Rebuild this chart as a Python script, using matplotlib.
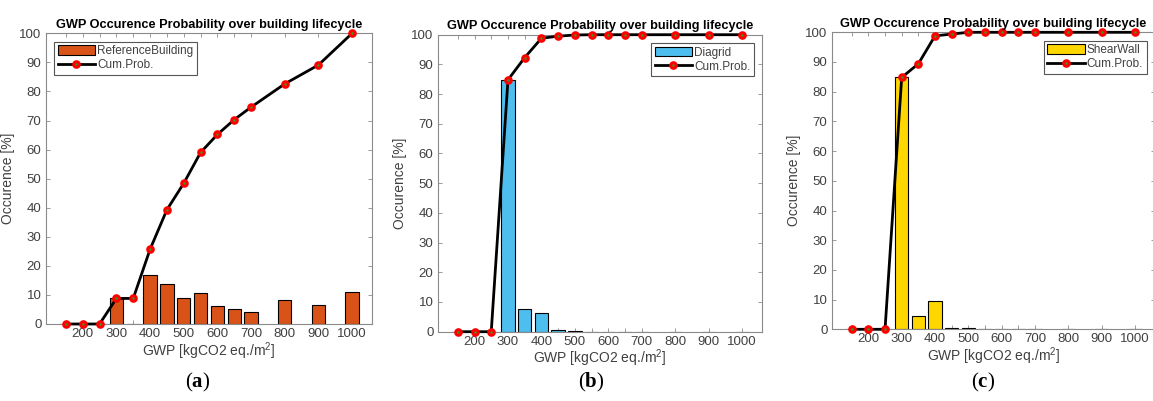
import matplotlib
matplotlib.use('Agg')
import matplotlib.pyplot as plt

# GWP bins [kgCO2 eq./m2]
gwp = [150, 200, 250, 300, 350, 400, 450, 500, 550, 600, 650, 700, 800, 900, 1000]

# occurence per bin [%]
ref_occ = [0, 0, 0, 8.8, 0, 16.9, 13.7, 9.1, 10.6, 6.2, 5.0, 4.0, 8.1, 6.5, 10.9]
diag_occ = [0, 0, 0, 84.8, 7.5, 6.3, 0.6, 0.3, 0, 0, 0, 0, 0, 0, 0]
shear_occ = [0, 0, 0, 84.8, 4.6, 9.4, 0.6, 0.6, 0, 0, 0, 0, 0, 0, 0]

# cumulative probability [%]
ref_cum = [0, 0, 0, 8.8, 8.8, 25.7, 39.3, 48.4, 59.0, 65.2, 70.3, 74.6, 82.6, 89.1, 100]
diag_cum = [0, 0, 0, 84.8, 92.3, 98.8, 99.5, 99.9, 100, 100, 100, 100, 100, 100, 100]
shear_cum = [0, 0, 0, 84.8, 89.4, 98.8, 99.4, 100, 100, 100, 100, 100, 100, 100, 100]

names = ['ReferenceBuilding', 'Diagrid', 'ShearWall']
colors = ['#D95319', '#4DBEEE', '#FFD700']
panel_tags = ['a', 'b', 'c']
xtick_labels = [str(v) if v % 100 == 0 else '' for v in gwp]

plt.rcParams['font.family'] = ['Liberation Sans Narrow', 'Liberation Sans', 'DejaVu Sans']
plt.rcParams['mathtext.fontset'] = 'custom'
plt.rcParams['mathtext.rm'] = 'Liberation Sans'
plt.rcParams['mathtext.bf'] = 'Liberation Serif:bold'

W, H = 1153, 401
fig = plt.figure(figsize=(W / 100, H / 100), dpi=100)

# axes boxes in pixels: left, top, right, bottom
boxes = [(45.7, 33.3, 372.3, 324.0),
         (437.7, 34.7, 762.3, 331.7),
         (831.7, 32.3, 1155.0, 329.3)]
legend_loc = ['upper left', 'upper right', 'upper right']
tag_x = [198, 591, 983]

tick_col = '#404040'
spine_col = '#8a8a8a'

for i in range(3):
    l, t, r, b = boxes[i]
    ax = fig.add_axes([l / W, 1 - b / H, (r - l) / W, (b - t) / H])
    occ = [ref_occ, diag_occ, shear_occ][i]
    cum = [ref_cum, diag_cum, shear_cum][i]

    ax.bar(gwp, occ, width=40, color=colors[i], edgecolor='black',
           linewidth=0.8, label=names[i], zorder=2)
    ax.plot(gwp, cum, '-o', color='black', linewidth=2, markersize=4,
            markerfacecolor='#3a9a20', markeredgecolor='red',
            markeredgewidth=2.2, label='Cum.Prob.', zorder=3, clip_on=False)

    ax.set_xlim(90, 1060)
    ax.set_ylim(0, 100)
    ax.set_xticks(gwp)
    ax.set_xticklabels(xtick_labels)
    ax.set_yticks(range(0, 101, 10))
    ax.tick_params(direction='in', top=True, right=True, length=3,
                   width=0.6, color=spine_col, labelcolor=tick_col,
                   labelsize=9.5, pad=3)
    for s in ax.spines.values():
        s.set_color(spine_col)
        s.set_linewidth(0.8)

    ax.set_title('GWP Occurence Probability over building lifecycle',
                 fontsize=9.2, fontweight='bold', family='Liberation Sans',
                 pad=4)
    ax.set_xlabel('GWP [kgCO2 eq./m$^{\\mathrm{2}}$]', fontsize=10,
                  color=tick_col, labelpad=0)
    ax.set_ylabel('Occurence [%]', fontsize=10, color=tick_col, labelpad=3)

    handles, labels = ax.get_legend_handles_labels()
    leg = ax.legend(handles[::-1], labels[::-1], loc=legend_loc[i], fontsize=8.5,
                    frameon=True, fancybox=False, edgecolor='#555555',
                    framealpha=1, handlelength=3.2, handleheight=0.9,
                    handletextpad=0.15, borderpad=0.3, labelspacing=0.2,
                    borderaxespad=0.7)
    leg.get_frame().set_linewidth(0.8)
    for txt in leg.get_texts():
        txt.set_color(tick_col)

    fig.text(tag_x[i] / W, 1 - 382 / H, '($\\mathbf{' + panel_tags[i] + '}$)',
             family='Liberation Serif', fontsize=15, ha='center', va='center')

fig.savefig('out.png', dpi=100)
